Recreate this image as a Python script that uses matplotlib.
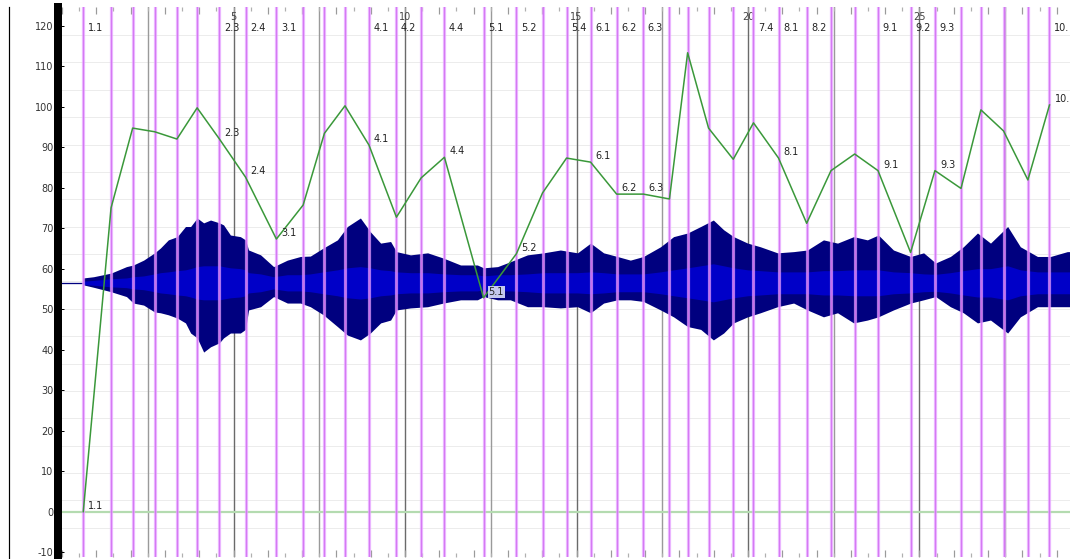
import matplotlib
matplotlib.use("Agg")
import matplotlib.pyplot as plt
from matplotlib.lines import Line2D
import numpy as np

#---------------------------------------------------------------------------------------------------
# data

# marker (purple line) positions and the green curve value at each marker
marker_x = [0.62, 1.43, 2.06, 2.70, 3.35, 3.94, 4.59, 5.35, 6.25, 7.03,
            7.65, 8.25, 8.95, 9.75, 10.47, 11.15, 12.29, 13.25, 14.01, 14.71,
            15.41, 16.17, 16.95, 17.71, 18.24, 18.85, 19.57, 20.16, 20.89, 21.71,
            22.42, 23.11, 23.79, 24.74, 25.45, 26.21, 26.79, 27.45, 28.16, 28.79]
green_y = [0, 75, 94.7, 93.8, 92, 99.7, 92, 82.6, 67.3, 75.7,
           93.4, 100.2, 90.5, 72.7, 82.4, 87.5, 52.8, 63.7, 78.7, 87.3,
           86.3, 78.4, 78.4, 77.2, 113.3, 94.7, 87, 96, 87.3, 71.2,
           84.2, 88.3, 84.2, 64, 84.2, 79.8, 99.2, 94, 81.9, 100.4]
marker_names = ['1.1', '', '', '', '', '', '2.3', '2.4', '3.1', '',
                '', '', '4.1', '4.2', '', '4.4', '5.1', '5.2', '', '5.4',
                '6.1', '6.2', '6.3', '', '', '', '', '7.4', '8.1', '8.2',
                '', '', '9.1', '9.2', '9.3', '', '', '', '', '10.']
green_label_idx = [0, 6, 7, 8, 12, 15, 16, 17, 20, 21, 22, 28, 32, 34, 39]

# waveform envelope (peak top / peak bottom) and rms half width
wave_center = 56.5
wave_x = [0.62, 0.92, 1.43, 1.88, 2.08, 2.38, 2.70, 2.87, 3.10, 3.36,
          3.60, 3.75, 3.94, 4.13, 4.33, 4.59, 4.71, 4.91, 5.20, 5.35,
          5.44, 5.79, 6.17, 6.57, 6.95, 7.24, 7.62, 8.03, 8.32, 8.70,
          8.99, 9.29, 9.58, 9.75, 10.16, 10.66, 11.12, 11.62, 12.11, 12.29,
          12.70, 13.07, 13.57, 14.04, 14.53, 15.03, 15.41, 15.79, 16.19, 16.57,
          16.95, 17.45, 17.83, 18.24, 18.62, 18.99, 19.29, 19.58, 19.99, 20.36,
          20.86, 21.33, 21.73, 22.20, 22.61, 23.08, 23.48, 23.80, 24.24, 24.74,
          25.12, 25.47, 25.90, 26.28, 26.69, 27.07, 27.57, 27.94, 28.44, 28.82,
          29.31, 29.40]
wave_top = [57.7, 58.0, 58.9, 60.5, 60.9, 62.1, 63.9, 65.1, 67.1, 67.9,
            70.4, 70.4, 72.5, 71.3, 72.0, 71.3, 70.8, 68.3, 67.9, 67.1,
            64.6, 63.4, 60.5, 62.1, 63.0, 63.1, 65.1, 67.1, 70.4, 72.5,
            69.1, 66.3, 66.7, 64.2, 63.4, 63.9, 62.6, 60.9, 60.9, 60.2,
            60.5, 61.7, 63.4, 63.9, 64.6, 63.9, 66.3, 63.9, 63.0, 62.1,
            63.0, 65.4, 67.9, 68.8, 70.4, 72.0, 69.6, 67.9, 66.3, 65.4,
            63.9, 64.2, 64.6, 67.1, 66.3, 67.9, 67.1, 68.3, 64.6, 63.0,
            63.9, 61.4, 63.0, 65.4, 68.8, 66.3, 70.4, 65.4, 63.0, 63.0,
            64.2, 64.2]
wave_bot = [56.0, 55.4, 54.3, 53.1, 51.5, 51.0, 49.3, 49.1, 48.6, 47.8,
            46.6, 44.1, 42.9, 39.4, 40.7, 41.7, 42.9, 44.1, 44.1, 45.0,
            49.8, 50.6, 53.1, 51.5, 51.5, 50.6, 48.6, 45.7, 43.6, 42.4,
            44.1, 46.6, 47.3, 49.8, 50.3, 50.6, 51.5, 52.3, 52.3, 53.1,
            52.3, 52.3, 50.6, 50.6, 50.3, 50.6, 49.1, 51.5, 52.3, 52.3,
            51.9, 49.8, 48.1, 45.7, 45.0, 42.4, 44.1, 46.6, 48.1, 49.1,
            50.6, 51.5, 49.8, 48.1, 49.1, 46.6, 47.3, 48.1, 49.8, 51.5,
            52.3, 53.1, 50.6, 49.1, 46.6, 47.3, 44.1, 48.1, 50.6, 50.6,
            50.6, 50.6]
wave_rms = [0.4, 0.6, 1.0, 1.2, 1.5, 1.7, 2.2, 2.5, 2.7, 3.0,
            3.2, 3.5, 4.0, 4.2, 4.2, 4.2, 4.0, 3.7, 3.5, 3.2,
            2.5, 2.2, 1.5, 2.0, 2.0, 2.2, 2.7, 3.2, 3.7, 4.0,
            3.7, 3.2, 3.0, 2.7, 2.5, 2.5, 2.2, 2.0, 2.0, 1.7,
            2.0, 2.0, 2.2, 2.5, 2.5, 2.5, 2.7, 2.5, 2.2, 2.2,
            2.2, 2.7, 3.2, 3.7, 4.2, 4.7, 4.2, 3.7, 3.2, 3.0,
            2.7, 2.7, 2.7, 3.0, 3.0, 3.2, 3.2, 3.2, 2.7, 2.5,
            2.2, 2.1, 2.5, 3.0, 3.5, 3.5, 4.2, 3.2, 2.7, 2.7,
            2.7, 2.7]

y_ticks = [-10, 0, 10, 20, 30, 40, 50, 60, 70, 80, 90, 100, 110, 120]
x_major = list(range(0, 30))
x_labels = [str(v) if v % 5 == 0 and v > 0 else '' for v in x_major]

#---------------------------------------------------------------------------------------------------
W, H = 1070, 559
px = 72 / 100.0   # one pixel in points

plt.rcParams['font.family'] = ['DejaVu Sans']
fig = plt.figure(figsize=(W / 100, H / 100), dpi=100)
fig.patch.set_facecolor('white')
ax = fig.add_axes([62 / W, 2 / H, 1008 / W, 550 / H])
ax.set_xlim(0, 1008 / 34.3)
ax.set_ylim(-11.2, 124.6)

# light grid lines of the wave view
for gy in np.arange(-4.0, 118.0, 6.76):
    ax.axhline(gy, color='#ececec', lw=1 * px, zorder=1)

# grey bar lines every 2.5
for gx in np.arange(2.5, 29.0, 2.5):
    c = '#6a6a6a' if gx % 5 == 0 else '#9a9a9a'
    ax.axvline(gx, color=c, lw=1.4 * px, zorder=1.5)

ax.axhline(0, color='#b4dbb0', lw=2.2 * px, zorder=2)

# waveform
ax.plot([0, wave_x[0]], [wave_center, wave_center], color='#000080', lw=1.3 * px, zorder=3)
ax.fill_between(wave_x, wave_bot, wave_top, color='#00007f', lw=0, zorder=3)
rms = np.array(wave_rms)
ax.fill_between(wave_x, wave_center - rms, wave_center + rms, color='#0000c8', lw=0, zorder=3.1)

# markers
for mx in marker_x:
    ax.axvline(mx, color='#e39cff', lw=3.2 * px, alpha=0.75, zorder=4)
    ax.axvline(mx, color='#d06cf0', lw=1.0 * px, alpha=0.8, zorder=4.1)

# green automation curve
ax.plot(marker_x, green_y, color='#3a983a', lw=1.1, zorder=5)

for i, name in enumerate(marker_names):
    if name:
        ax.annotate(name, xy=(marker_x[i], 1), xycoords=('data', 'axes fraction'),
                    xytext=(3.2, -15), textcoords='offset points', ha='left', va='center',
                    fontsize=7, color='#222222', zorder=6)

for i in green_label_idx:
    box = None
    if marker_names[i] == '5.1':
        box = dict(boxstyle='square,pad=0.1', facecolor='#c4c8ee', edgecolor='none')
    ax.annotate(marker_names[i], xy=(marker_x[i], green_y[i]), xytext=(3.6, 0.6),
                textcoords='offset points', ha='left', va='bottom', fontsize=7,
                color='#222222', bbox=box, zorder=6)

# axes styling
for s in ['top', 'right', 'bottom']:
    ax.spines[s].set_visible(False)
ax.spines['left'].set_position(('outward', 4 * px))
ax.spines['left'].set_linewidth(8 * px)
ax.spines['left'].set_color('black')

ax.set_yticks(y_ticks)
ax.set_yticklabels([str(v) for v in y_ticks])
ax.tick_params(axis='y', direction='in', length=5.5 * px, width=1 * px, color='black',
               pad=4.5 * px, labelsize=7, labelcolor='#333333')

ax.set_xticks(x_major, labels=x_labels)
ax.set_xticks(np.arange(0.5, 29.5, 1.0), minor=True)
ax.tick_params(axis='x', which='major', direction='in', length=7 * px, width=1.2 * px,
               color='#9a9a9a', top=True, bottom=True, labeltop=True, labelbottom=False,
               pad=-11, labelsize=7, labelcolor='#444444')
ax.tick_params(axis='x', which='minor', direction='in', length=4 * px, width=1.2 * px,
               color='#b0b0b0', top=True, bottom=True)
for t, v in zip(ax.xaxis.get_major_ticks(), x_major):
    if v % 5 == 0:
        t.tick1line.set_color('black')
        t.tick2line.set_color('black')

# thin frame line at the far left
fig.add_artist(Line2D([8.5 / W, 8.5 / W], [0, 552 / H], color='black', lw=1.2 * px))

fig.savefig("out.png", dpi=100)
